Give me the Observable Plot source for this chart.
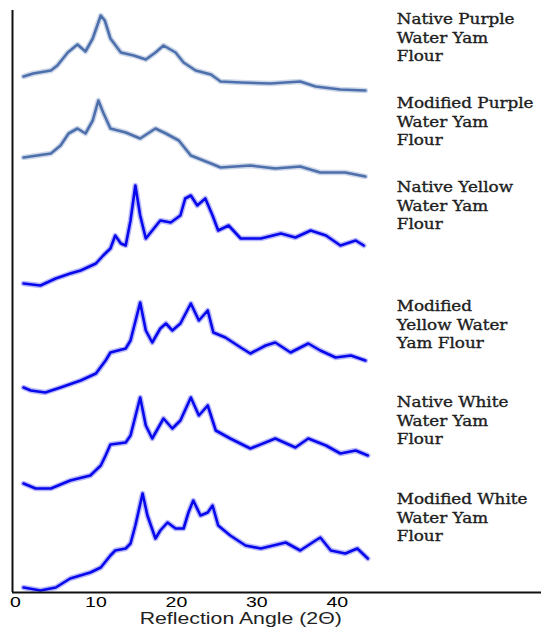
<!DOCTYPE html>
<html>
<head>
<meta charset="utf-8">
<script src="https://cdn.jsdelivr.net/npm/d3@7"></script>
<script src="https://cdn.jsdelivr.net/npm/@observablehq/plot@0.6"></script>
<style>
  html, body { margin: 0; padding: 0; background: #fff; }
  #chart { width: 541px; height: 635px; }
</style>
</head>
<body>
<div id="chart"></div>
<script>
// ---- Data (2θ in degrees, relative intensity above each trace's baseline) ----
const seriesNames = [
  "Native Purple\nWater Yam\nFlour",
  "Modified Purple\nWater Yam\nFlour",
  "Native Yellow\nWater Yam\nFlour",
  "Modified\nYellow Water\nYam Flour",
  "Native White\nWater Yam\nFlour",
  "Modified White\nWater Yam\nFlour"
];
// vertical stacking offsets (intensity units)
const offsets = [500, 414, 305, 198, 102, 0];

const theta1 = [1.0, 2.2, 4.4, 5.2, 6.5, 7.7, 8.7, 9.6, 10.6, 11.1, 11.8, 13.1, 14.7, 16.2, 17.4, 18.4, 19.9, 20.9, 22.4, 24.3, 25.5, 28.0, 31.7, 35.4, 37.3, 40.4, 43.5];
const inten1 = [16, 19, 22, 27, 40, 48, 41, 54, 77, 72, 54, 40, 37, 33, 40, 47, 40, 30, 22, 18, 11, 10, 9, 11, 6, 3, 2];

const theta2 = [1.0, 4.4, 5.6, 6.6, 7.7, 8.7, 9.6, 10.3, 10.9, 11.8, 13.7, 15.5, 17.4, 18.7, 20.3, 21.8, 24.3, 25.5, 29.2, 32.3, 35.4, 37.9, 41.0, 43.5];
const inten2 = [21, 25, 33, 45, 50, 45, 58, 78, 66, 50, 46, 40, 50, 45, 38, 23, 15, 11, 13, 10, 12, 6, 6, 2];

const theta3 = [1.0, 3.1, 5.0, 6.8, 8.1, 10.0, 10.9, 11.8, 12.4, 13.1, 13.7, 14.3, 14.9, 15.5, 16.2, 16.8, 18.0, 19.3, 20.5, 21.1, 21.8, 22.6, 23.6, 24.5, 25.2, 26.5, 28.0, 30.5, 33.0, 34.8, 36.7, 38.6, 40.4, 42.3, 43.3];
const inten3 = [4, 2, 9, 14, 17, 24, 32, 39, 52, 44, 42, 67, 102, 72, 49, 55, 67, 65, 72, 89, 92, 82, 89, 72, 57, 62, 49, 49, 54, 50, 57, 52, 42, 47, 42];

const theta4 = [1.0, 1.9, 3.7, 5.6, 8.1, 10.0, 11.2, 11.8, 13.7, 14.3, 15.5, 16.2, 17.0, 18.0, 18.7, 19.5, 20.5, 21.8, 22.8, 23.9, 24.6, 26.1, 28.0, 29.2, 31.1, 32.3, 34.2, 36.4, 37.9, 39.8, 41.7, 43.5];
const inten4 = [7, 4, 2, 7, 14, 21, 34, 42, 46, 54, 92, 64, 52, 66, 71, 64, 71, 91, 74, 84, 62, 57, 47, 41, 49, 52, 42, 51, 44, 37, 39, 34];

const theta5 = [1.0, 2.5, 4.4, 6.8, 9.3, 10.6, 11.2, 11.8, 13.7, 14.3, 15.5, 16.2, 17.0, 18.4, 19.5, 20.5, 21.8, 22.8, 23.9, 24.9, 26.7, 29.2, 32.3, 34.8, 36.4, 38.6, 40.4, 42.3, 43.8];
const inten5 = [7, 2, 2, 10, 15, 25, 35, 46, 48, 55, 93, 65, 52, 72, 62, 70, 93, 75, 85, 60, 52, 42, 52, 43, 52, 45, 37, 40, 35];

const theta6 = [1.0, 3.1, 5.0, 6.8, 9.3, 10.6, 11.8, 12.4, 13.7, 14.3, 14.9, 15.8, 16.4, 17.4, 18.0, 18.9, 19.9, 20.9, 21.5, 22.1, 23.0, 23.9, 24.5, 25.2, 26.7, 28.6, 30.5, 33.6, 35.4, 37.3, 37.9, 39.2, 41.0, 42.5, 43.8];
const inten6 = [5, 2, 5, 14, 20, 25, 37, 42, 44, 49, 67, 99, 77, 54, 62, 70, 64, 64, 80, 92, 77, 80, 87, 67, 57, 47, 44, 50, 42, 52, 55, 42, 39, 44, 34];

const thetas = [theta1, theta2, theta3, theta4, theta5, theta6];
const intens = [inten1, inten2, inten3, inten4, inten5, inten6];
const xTicks = [0, 10, 20, 30, 40];
const xLabel = "Reflection Angle (2Θ)";

// ---- Styling / layout ----
const colors = ["#4d70ad", "#4d70ad", "#0808ec", "#0808ec", "#0808ec", "#0808ec"];
const labelX = 47.4;
const labelTops = [581, 497, 413, 294, 198, 101];

const rows = thetas.flatMap((ts, i) =>
  ts.map((t, j) => ({series: i, t, v: offsets[i] + intens[i][j], c: colors[i]}))
);
const labels = seriesNames.map((name, i) => ({name, x: labelX, y: labelTops[i]}));

const chart = Plot.plot({
  width: 541,
  height: 635,
  marginLeft: 12,
  marginRight: 0,
  marginTop: 10,
  marginBottom: 43,
  x: {domain: [-0.375, 65.4]},
  y: {domain: [0, 582], axis: null},
  color: {type: "identity"},
  style: {fontFamily: "'Liberation Sans', Arial, sans-serif", color: "#000", background: "#fff"},
  marks: [
    Plot.line(rows, {x: "t", y: "v", z: "series", stroke: "c", strokeWidth: 5.5, strokeOpacity: 0.28}),
    Plot.line(rows, {x: "t", y: "v", z: "series", stroke: "c", strokeWidth: 2.6}),
    Plot.ruleX([-0.375], {stroke: "#111", strokeWidth: 2}),
    Plot.ruleY([0], {stroke: "#111", strokeWidth: 2}),
    Plot.axisX({ticks: xTicks, tickSize: 0, tickPadding: 4, fontSize: 15, label: null}),
    Plot.text([xLabel], {x: 28, frameAnchor: "bottom", dy: 31, fontSize: 16, fill: "#222"}),
    Plot.text(labels, {
      x: "x", y: "y", text: "name", textAnchor: "start", lineAnchor: "top",
      lineHeight: 1.3, fontSize: 14, fill: "#1e1e1e", stroke: "#1e1e1e", strokeWidth: 0.35,
      fontFamily: "'DejaVu Serif', 'Liberation Serif', serif"
    })
  ]
});

// widen glyphs horizontally like the reference (stretched typography)
function stretchAll(nodes, s) {
  nodes.forEach(t => t.setAttribute("transform", (t.getAttribute("transform") || "") + ` scale(${s},1)`));
}
const textGroups = chart.querySelectorAll('g[aria-label="text"]');
if (textGroups[0]) stretchAll(textGroups[0].querySelectorAll("text"), 1.33);
if (textGroups[1]) stretchAll(textGroups[1].querySelectorAll("text"), 1.2);
stretchAll(chart.querySelectorAll('g[aria-label="x-axis tick label"] text'), 1.3);

document.getElementById("chart").appendChild(chart);
</script>
</body>
</html>
